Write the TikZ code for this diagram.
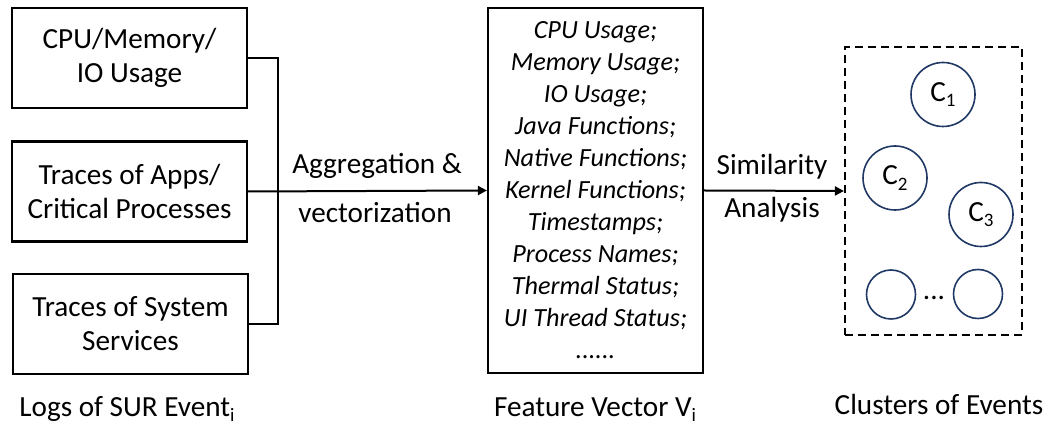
\documentclass[tikz,border=0pt]{standalone}
\usepackage{fontspec}
\setmainfont{Carlito}
\usetikzlibrary{arrows.meta,positioning}
\definecolor{navy}{HTML}{1F3864}
\newcommand{\lsub}[1]{\raisebox{-0.4ex}{\fontsize{9.5}{10}\selectfont #1}}

\tikzset{
  logbox/.style={draw, line width=1.1pt, minimum width=117.5pt, minimum height=50pt,
    align=center, font=\fontsize{14.6}{17}\selectfont},
  featbox/.style={draw, line width=1.1pt, minimum width=107.5pt, minimum height=182.5pt,
    align=center, font=\fontsize{13.1}{16}\selectfont\itshape},
  clu/.style={circle, draw=navy, line width=0.8pt, minimum size=32pt, inner sep=0pt,
    font=\fontsize{14.6}{17}\selectfont},
  cluS/.style={clu, minimum size=24.5pt},
  lbl/.style={font=\fontsize{14.6}{17}\selectfont},
  flow/.style={line width=1pt, -{Triangle[length=4.5pt,width=4.5pt]}}
}

\begin{document}
\begin{tikzpicture}[x=0.5pt, y=-0.5pt]
  \useasboundingbox (0,0) rectangle (1048,426);
  % logs of one event
  \node[logbox] (cpu) at (129.5,58) {CPU/Memory/\\IO Usage};
  \node[logbox] (app) at (129.5,191.5) {Traces of Apps/\\Critical Processes};
  \node[logbox] (sys) at (130.5,324) {Traces of System\\Services};
  \coordinate (jn) at (278,191.5);
  \draw[line width=1pt] (cpu.east) -| (jn) |- (sys.east);

  % feature vector
  \node[featbox] (feat) at (595.5,190.5) {CPU Usage;\\Memory Usage;\\IO Usage;\\
    Java Functions;\\Native Functions;\\Kernel Functions;\\Timestamps;\\
    Process Names;\\Thermal Status;\\UI Thread Status;\\......};
  \draw[flow] (app.east) -- (feat.west);
  \node[lbl] (agg) at (377,166) {Aggregation \&};
  \node[lbl] (vec) at (375,213) {vectorization};

  % clusters
  \node[draw, line width=1.1pt, dash pattern=on 4pt off 2.5pt,
    minimum width=88.5pt, minimum height=144pt] (clus) at (933.5,191) {};
  \draw[flow] (feat.east) -- (clus.west);
  \node[lbl] (sim) at (772,167) {Similarity};
  \node[lbl] (ana) at (772,210) {Analysis};
  \node[clu] (c1) at (943,94.5) {C\lsub{1}};
  \node[clu] (c2) at (895,178) {C\lsub{2}};
  \node[clu] (c3) at (981,214.5) {C\lsub{3}};
  \node[cluS] (c4) at (891,294.5) {};
  \node[cluS] (c5) at (978,294) {};
  \node[lbl, anchor=base] (dots) at (934,300) {...};

  % captions
  \node[lbl, anchor=base] (logs) at (127,416) {Logs of SUR Event\lsub{i}};
  \node[lbl, anchor=base] (fv) at (595,416) {Feature Vector V\lsub{i}};
  \node[lbl, anchor=base] (ce) at (939,415) {Clusters of Events};
\end{tikzpicture}
\end{document}
